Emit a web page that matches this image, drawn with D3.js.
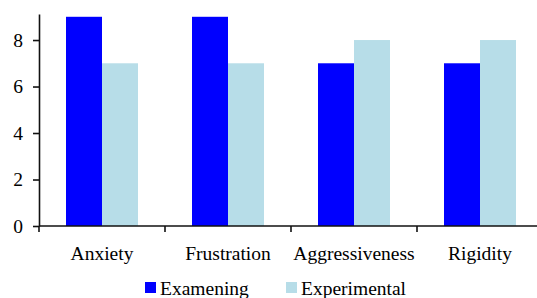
<!DOCTYPE html>
<html>
<head>
<meta charset="utf-8">
<script src="https://cdn.jsdelivr.net/npm/d3@7"></script>
<style>
  body { margin: 0; background: #fff; }
  svg { display: block; }
</style>
</head>
<body>
<div id="chart"></div>
<script>
const categories = ['Anxiety', 'Frustration', 'Aggressiveness', 'Rigidity'];
const seriesNames = ['Examening', 'Experimental'];
const examening = [9, 9, 7, 7];
const experimental = [7, 7, 8, 8];
const yTicks = [0, 2, 4, 6, 8];

const FONT = '"Liberation Serif", "Times New Roman", serif';
const FONT_SIZE = '19.5px';
const width = 537;
const height = 298;
const margin = { top: 14, left: 39, bottom: 72 };
const colors = { Examening: '#0000ff', Experimental: '#b7dde8' };

const svg = d3.select('#chart').append('svg')
    .attr('width', width).attr('height', height)
    .style('font-family', FONT);

// band of 126px per category, axis runs past the right edge
const x = d3.scaleBand().domain(categories).range([margin.left, margin.left + 126 * 4]);
const y = d3.scaleLinear().domain([0, 9.12]).range([height - margin.bottom, margin.top]);
const gap = x.bandwidth() * 27 / 126;
const inner = d3.scaleBand().domain(seriesNames).range([gap, x.bandwidth() - gap]);

const rows = categories.map((c, i) => ({ cat: c, Examening: examening[i], Experimental: experimental[i] }));

const groups = svg.append('g').selectAll('g').data(rows).enter()
    .append('g').attr('transform', (d) => 'translate(' + x(d.cat) + ',0)');

groups.selectAll('rect')
    .data((d) => seriesNames.map((s) => ({ key: s, value: d[s] })))
    .enter().append('rect')
    .attr('x', (d) => inner(d.key))
    .attr('width', inner.bandwidth())
    .attr('y', (d) => y(d.value))
    .attr('height', (d) => y(0) - y(d.value))
    .attr('fill', (d) => colors[d.key]);

// y axis
const yAxis = svg.append('g').attr('transform', 'translate(' + margin.left + ',0)')
    .call(d3.axisLeft(y).tickValues(yTicks).tickSize(6).tickPadding(10).tickSizeOuter(0));
yAxis.attr('font-family', null).attr('font-size', null);
yAxis.select('.domain').attr('stroke', '#111').attr('stroke-width', 1.6);
yAxis.selectAll('.tick line').attr('stroke', '#111').attr('stroke-width', 1.6);
yAxis.selectAll('text').attr('fill', '#000')
    .style('font-family', FONT).style('font-size', FONT_SIZE);

// x axis with ticks at band edges
const edges = categories.map((c) => x(c)).concat([x.range()[1]]);
const xg = svg.append('g').attr('transform', 'translate(0,' + y(0) + ')');
xg.append('line').attr('x1', margin.left).attr('x2', width)
    .attr('stroke', '#111').attr('stroke-width', 1.6);
xg.selectAll('line.tk').data(edges).enter().append('line').attr('class', 'tk')
    .attr('x1', (d) => d).attr('x2', (d) => d).attr('y1', 0).attr('y2', 6)
    .attr('stroke', '#111').attr('stroke-width', 1.6);
xg.selectAll('text').data(categories).enter().append('text')
    .attr('x', (d) => x(d) + x.bandwidth() / 2)
    .attr('y', 34)
    .attr('text-anchor', 'middle')
    .style('font-family', FONT)
    .style('font-size', FONT_SIZE)
    .text((d) => d);

// legend
const legend = svg.append('g').attr('transform', 'translate(0,295)');
const legendX = [145, 286];
seriesNames.forEach((s, i) => {
    legend.append('rect').attr('x', legendX[i]).attr('y', -13)
        .attr('width', 11).attr('height', 11).attr('fill', colors[s]);
    legend.append('text').attr('x', legendX[i] + 15).attr('y', 0)
        .style('font-family', FONT)
        .style('font-size', FONT_SIZE).text(s);
});
</script>
</body>
</html>
